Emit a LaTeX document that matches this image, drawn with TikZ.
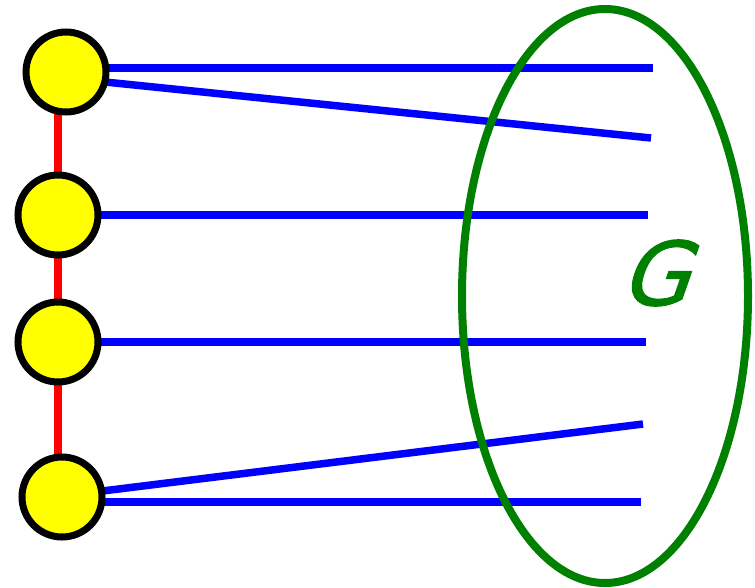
\documentclass[tikz,border=0pt]{standalone}
\usepackage{fontspec}
\newfontfamily\gfont[FakeSlant=0.35,FakeBold=1.2]{DejaVu Sans}
\definecolor{gy}{RGB}{255,255,0}
\definecolor{gb}{RGB}{0,0,255}
\definecolor{gr}{RGB}{255,0,0}
\definecolor{gg}{RGB}{0,128,0}
\begin{document}
\begin{tikzpicture}[x=1pt,y=-1pt,
  vert/.style={circle,draw=black,fill=gy,line width=7pt,minimum size=80pt,inner sep=0pt},
  edgeb/.style={draw=gb,line width=7.5pt},
  edger/.style={draw=gr,line width=7.5pt},
  setg/.style={draw=gg,line width=8pt}]
\useasboundingbox (0,0) rectangle (755,587);
% coordinates of free ends
\coordinate (e1) at (653,68);
\coordinate (e2) at (651,138);
\coordinate (e3) at (648,215);
\coordinate (e4) at (646,342);
\coordinate (e5) at (643,424);
\coordinate (e6) at (641,502);
% vertex positions
\coordinate (p1) at (66,72);
\coordinate (p2) at (58,215);
\coordinate (p3) at (58,342);
\coordinate (p4) at (62,497);
% red path
\draw[edger] (p2|-p1) -- (p2) -- (p3) -- (p3|-p4);
% blue edges
\draw[edgeb] (p1|-e1) -- (e1);
\draw[edgeb] ([yshift=-6pt]p1) -- (e2);
\draw[edgeb] (p2) -- (e3);
\draw[edgeb] (p3) -- (e4);
\draw[edgeb] ([yshift=1pt]p4) -- (e5);
\draw[edgeb] (p4|-e6) -- (e6);
% vertices
\node[vert] (n1) at (p1) {};
\node[vert] (n2) at (p2) {};
\node[vert] (n3) at (p3) {};
\node[vert] (n4) at (p4) {};
% ellipse
\draw[setg] (605,296) ellipse [x radius=143, y radius=287];
\node[text=gg,font=\gfont\fontsize{88}{88}\selectfont,inner sep=0pt] (G) at (653,273) {G};
\end{tikzpicture}
\end{document}
